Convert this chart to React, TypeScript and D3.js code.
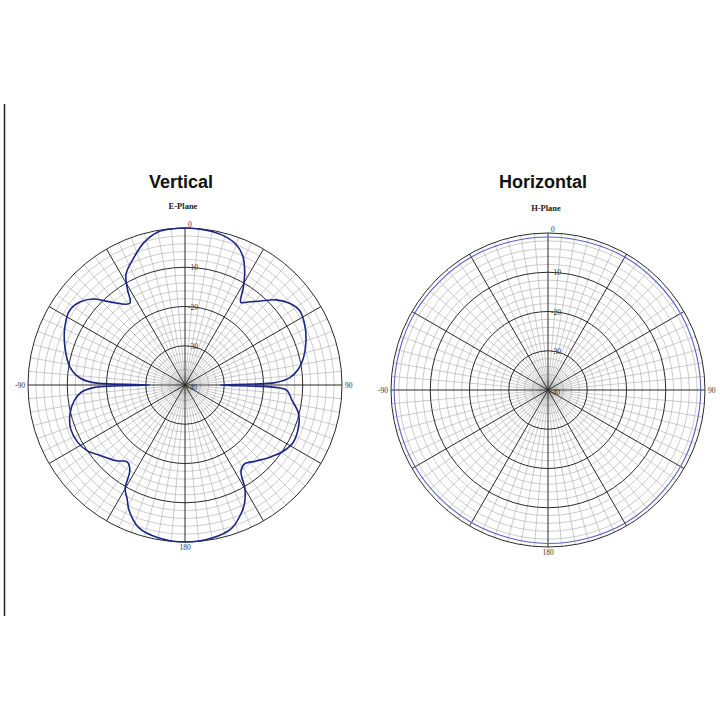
import React from "react";
import * as d3 from "d3";

// E-plane (Vertical) pattern: angle in degrees clockwise from top, level in dB
const ePlaneAngles = [
  0, 5, 10, 15, 20, 24, 28, 31, 34, 37, 42, 47, 52, 57, 63, 70, 77, 82, 86, 88.5, 90,
  91.5, 93, 98, 104, 110, 118, 124, 130, 137, 143, 147, 150, 153, 156, 162, 170, 180,
  190, 198, 204, 207, 210, 213, 217, 222, 230, 236, 242, 249, 256, 262, 266, 268.5, 270,
  271.5, 273.8, 279, 287.6, 295.8, 303, 308.3, 313, 318, 326, 329, 332, 338.2, 344, 350, 355,
];
const ePlaneDb = [
  0, -0.1, -0.3, -0.8, -1.9, -3.9, -7.6, -11.2, -14.6, -13.5, -11.2, -8.2, -6.2, -5.2, -5.8, -7.2, -9.0, -10.8, -13.2, -17, -31,
  -17, -14, -12.5, -10.2, -9.2, -8.8, -9.8, -11.5, -13.5, -14.8, -13.8, -9.5, -6.5, -4.5, -1.6, -0.4, 0,
  -0.5, -1.8, -5, -7.5, -9.5, -14.2, -15.5, -14, -12, -10, -9.0, -8.8, -9.8, -11.5, -13.5, -17, -31,
  -16.6, -13.2, -10.3, -7.9, -6.0, -5.0, -5.9, -7.9, -11.5, -14.9, -11.5, -8.0, -5.0, -2.2, -0.4, -0.1,
];

// H-plane (Horizontal) pattern
const hPlaneAngles = [0, 30, 60, 90, 120, 150, 180, 210, 240, 270, 300, 330];
const hPlaneDb = [-1.0, -0.9, -1.0, -1.1, -1.0, -0.8, -0.9, -1.0, -0.9, -0.8, -0.8, -0.9];

const ringTicks = [0, -10, -20, -30, -40];
const ringTickLabels = ["0", "-10", "-20", "-30", "-40"];
const axisTickAngles = [-90, 90, 180];
const axisTickLabels = ["-90", "90", "180"];

const titles = ["Vertical", "Horizontal"];
const subtitles = ["E-Plane", "H-Plane"];

type PolarProps = {
  cx: number;
  cy: number;
  R: number;
  angles: number[];
  values: number[];
  color: string;
  lineWidth: number;
};

function Polar({ cx, cy, R, angles, values, color, lineWidth }: PolarProps) {
  const r = d3.scaleLinear().domain([-40, 0]).range([0, R]);
  const rad = (deg: number) => (deg * Math.PI) / 180;
  const lightRings = d3.range(-38, 0, 2).filter((v) => v % 10 !== 0);
  const darkRings = [0, -10, -20, -30];
  const lightSpokes = d3.range(0, 360, 5).filter((a) => a % 30 !== 0);
  const darkSpokes = d3.range(0, 360, 30);
  const pts: [number, number][] = angles.map((a, i) => [rad(a), r(values[i])]);
  const line = d3
    .lineRadial<[number, number]>()
    .angle((d) => d[0])
    .radius((d) => d[1])
    .curve(d3.curveCatmullRomClosed.alpha(0.5));
  const px = (a: number, rr: number) => [Math.sin(rad(a)) * rr, -Math.cos(rad(a)) * rr];
  return (
    <g transform={`translate(${cx},${cy})`}>
      {lightRings.map((v) => (
        <circle key={"lr" + v} r={r(v)} fill="none" stroke="#a9a9a9" strokeWidth={0.6} />
      ))}
      {lightSpokes.map((a) => {
        const [x, y] = px(a, R);
        return <line key={"ls" + a} x1={0} y1={0} x2={x} y2={y} stroke="#a9a9a9" strokeWidth={0.6} />;
      })}
      {darkRings.map((v) => (
        <circle key={"dr" + v} r={r(v)} fill="none" stroke="#2a2a2a" strokeWidth={1} />
      ))}
      {darkSpokes.map((a) => {
        const [x, y] = px(a, R);
        return <line key={"ds" + a} x1={0} y1={0} x2={x} y2={y} stroke="#2a2a2a" strokeWidth={1} />;
      })}
      <path d={line(pts) || ""} fill="none" stroke={color} strokeWidth={lineWidth} />
      {ringTicks.map((v, i) => (
        <text
          key={"rt" + v}
          x={v === -40 ? 2 : 3}
          y={v === 0 ? -R - 1 : -r(v) + (v === -40 ? 5 : 3)}
          fontSize={7.5}
          fontFamily="Liberation Serif, serif"
          fill="#333"
        >
          {ringTickLabels[i]}
        </text>
      ))}
      {axisTickAngles.map((a, i) => {
        const [x, y] = px(a, R);
        const anchor = a === 90 ? "start" : a === -90 ? "end" : "middle";
        const dx = a === 90 ? 3 : a === -90 ? -3 : 0;
        const dy = a === 180 ? 8 : 2.5;
        return (
          <text
            key={"at" + a}
            x={x + dx}
            y={y + dy}
            textAnchor={anchor}
            fontSize={7.5}
            fontFamily="Liberation Serif, serif"
            fill="#333"
          >
            {axisTickLabels[i]}
          </text>
        );
      })}
    </g>
  );
}

export default function App() {
  return (
    <svg
      width={720}
      height={720}
      style={{ position: "absolute", left: 0, top: 0, background: "#fff" }}
    >
      <rect x={0} y={0} width={720} height={720} fill="#fff" />
      <line x1={4.5} y1={104} x2={4.5} y2={616} stroke="#222" strokeWidth={1.5} />
      <text x={181} y={188} textAnchor="middle" fontSize={18} fontWeight="bold" fontFamily="Liberation Sans, Arial, sans-serif" fill="#111">
        {titles[0]}
      </text>
      <text x={183} y={209} textAnchor="middle" fontSize={8.5} fontWeight="bold" fontFamily="Liberation Serif, serif" fill="#222">
        {subtitles[0]}
      </text>
      <text x={543} y={188} textAnchor="middle" fontSize={18} fontWeight="bold" fontFamily="Liberation Sans, Arial, sans-serif" fill="#111">
        {titles[1]}
      </text>
      <text x={546} y={211} textAnchor="middle" fontSize={8.5} fontWeight="bold" fontFamily="Liberation Serif, serif" fill="#222">
        {subtitles[1]}
      </text>
      <Polar cx={185} cy={385} R={157} angles={ePlaneAngles} values={ePlaneDb} color="#1b2585" lineWidth={1.6} />
      <Polar cx={548} cy={390} R={157} angles={hPlaneAngles} values={hPlaneDb} color="#5a63c8" lineWidth={1.1} />
    </svg>
  );
}
